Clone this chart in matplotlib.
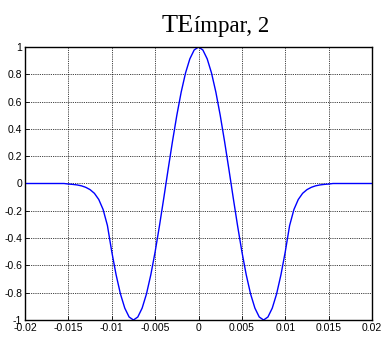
import matplotlib
matplotlib.use("Agg")
from matplotlib import pyplot as plt
import numpy as np

# modo TE impar de orden 2: campo normalizado a lo largo de x
x = np.linspace(-0.02, 0.02, 81)
campo = [
    0, 0, 0, 0, 0, 0, 0, 0, 0, 0,
    -0.004, -0.0065, -0.0105, -0.017, -0.028, -0.045, -0.072, -0.117, -0.19, -0.308,
    -0.5, -0.669, -0.809, -0.913, -0.978, -1.0, -0.978, -0.913, -0.809, -0.669,
    -0.5, -0.309, -0.105, 0.105, 0.309, 0.5, 0.669, 0.809, 0.913, 0.978,
    1.0,
    0.978, 0.913, 0.809, 0.669, 0.5, 0.309, 0.105, -0.105, -0.309, -0.5,
    -0.669, -0.809, -0.913, -0.978, -1.0, -0.978, -0.913, -0.809, -0.669, -0.5,
    -0.308, -0.19, -0.117, -0.072, -0.045, -0.028, -0.017, -0.0105, -0.0065, -0.004,
    0, 0, 0, 0, 0, 0, 0, 0, 0, 0,
]
xticks = [-0.02, -0.015, -0.01, -0.005, 0, 0.005, 0.01, 0.015, 0.02]
xlabels = ["-0.02", "-0.015", "-0.01", "-0.005", "0", "0.005", "0.01", "0.015", "0.02"]
yticks = [-1, -0.8, -0.6, -0.4, -0.2, 0, 0.2, 0.4, 0.6, 0.8, 1]
ylabels = ["-1", "-0.8", "-0.6", "-0.4", "-0.2", "0", "0.2", "0.4", "0.6", "0.8", "1"]

plt.rcParams["font.family"] = "Liberation Sans"
plt.rcParams["font.size"] = 7.5

fig = plt.figure(figsize=(3.86, 3.40), dpi=100)
ax = fig.add_axes([0.0648, 0.0588, 0.899, 0.803])

ax.plot(x, campo, color="#0000ff", lw=1)

ax.set_xlim(-0.02, 0.02)
ax.set_ylim(-1, 1)
ax.set_xticks(xticks)
ax.set_xticklabels(xlabels)
ax.set_yticks(yticks)
ax.set_yticklabels(ylabels)
ax.tick_params(direction="in", length=3, width=0.6, pad=2, labelsize=7.5)
ax.grid(True, color="black", linestyle=(0, (1, 1.2)), linewidth=0.6)
for s in ax.spines.values():
    s.set_linewidth(1.0)

# titulo con subindice a mano (estilo matlab)
fig.text(162 / 386, 1 - 32 / 340, "TE", family="Liberation Serif", fontsize=19,
         ha="left", va="baseline")
fig.text(194 / 386, 1 - 32 / 340, "ímpar, 2", family="Liberation Serif", fontsize=16.5,
         ha="left", va="baseline")

fig.savefig("out.png", dpi=100)
